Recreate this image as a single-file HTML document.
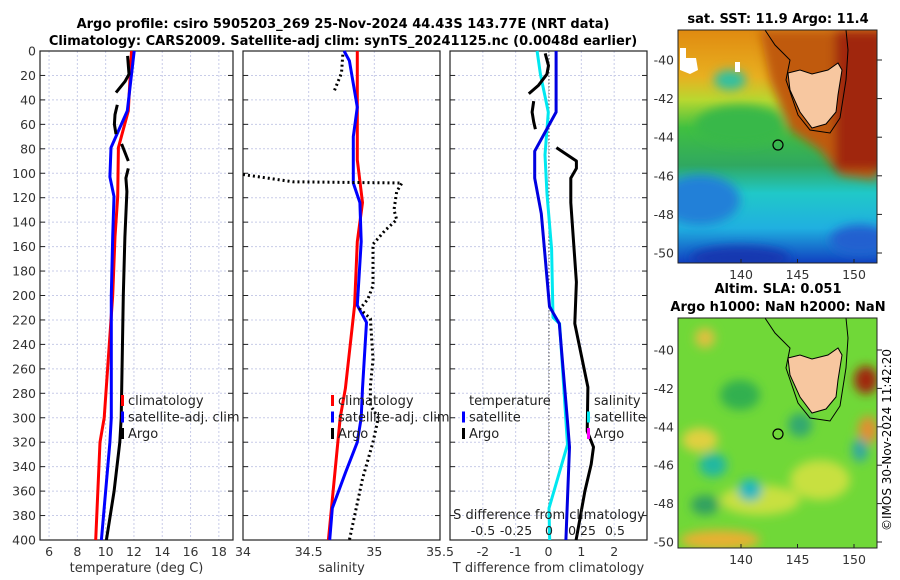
<!DOCTYPE html>
<html><head><meta charset="utf-8">
<style>
body{margin:0;background:#fff;}
svg{display:block;font-family:"DejaVu Sans","Liberation Sans",sans-serif;}
</style></head>
<body>
<svg id="chart" width="900" height="580" viewBox="0 0 900 580" xmlns="http://www.w3.org/2000/svg">
<defs>
<linearGradient id="sstg" x1="0" y1="0" x2="0" y2="1">
<stop offset="0" stop-color="#e08a10"/><stop offset="0.2" stop-color="#e8b020"/><stop offset="0.3" stop-color="#b8d830"/>
<stop offset="0.42" stop-color="#40c040"/><stop offset="0.58" stop-color="#30a860"/><stop offset="0.7" stop-color="#20c8c8"/>
<stop offset="0.85" stop-color="#20b0e0"/><stop offset="1" stop-color="#1040c0"/></linearGradient>
<filter id="blur4"><feGaussianBlur stdDeviation="5"/></filter>
<clipPath id="clipTop"><rect x="678" y="30" width="199" height="233"/></clipPath>
<clipPath id="clipBot"><rect x="678" y="318" width="199" height="230"/></clipPath>
</defs>
<text x="343" y="28" text-anchor="middle" font-size="13" font-weight="bold">Argo profile: csiro 5905203_269 25-Nov-2024 44.43S 143.77E (NRT data)</text>
<text x="343" y="45" text-anchor="middle" font-size="13" font-weight="bold">Climatology: CARS2009. Satellite-adj clim: synTS_20241125.nc (0.0048d earlier)</text>
<g id="plots"></g>

<g>
<text x="778" y="23" text-anchor="middle" font-size="13" font-weight="bold">sat. SST: 11.9 Argo: 11.4</text>
<g clip-path="url(#clipTop)">
<rect x="678" y="30" width="199" height="233" fill="url(#sstg)"/>
<g filter="url(#blur4)">
<path d="M760 30 L877 30 L877 180 L840 175 L820 150 L790 130 L770 80 Z" fill="#c05a10"/>
<rect x="835" y="30" width="50" height="140" fill="#a02808"/>
<ellipse cx="700" cy="200" rx="40" ry="25" fill="#2080d8"/>
<ellipse cx="740" cy="258" rx="50" ry="12" fill="#1838b0"/>
<ellipse cx="860" cy="240" rx="30" ry="15" fill="#2060d0"/>
<ellipse cx="740" cy="125" rx="45" ry="20" fill="#38b848"/>
<ellipse cx="730" cy="80" rx="16" ry="10" fill="#30c0a0"/>
</g>
<path d="M680 48 L686 48 L686 58 L696 58 L698 70 L690 74 L680 70 Z" fill="#fff"/>
<path d="M735 62 L740 62 L740 72 L735 72 Z" fill="#fff"/>
</g>
<path d="M788 73 L800 70 L812 74 L828 70 L838 63 L842 70 L838 95 L836 112 L826 124 L812 128 L800 112 L790 90 Z" fill="#f7c7a0" stroke="#000" stroke-width="1"/>
<path d="M765 30 L775 45 L790 60 L786 80 L798 115 L810 130 L830 133 L840 118 L846 80 L848 50 L846 30" fill="none" stroke="#000" stroke-width="1"/>
<circle cx="778" cy="145" r="5" fill="none" stroke="#000" stroke-width="1.2"/>
<rect x="678" y="30" width="199" height="233" fill="none" stroke="#222" stroke-width="1"/>
</g>

<g>
<text x="778" y="293" text-anchor="middle" font-size="13" font-weight="bold">Altim. SLA: 0.051</text>
<text x="778" y="311" text-anchor="middle" font-size="13" font-weight="bold">Argo h1000: NaN h2000: NaN</text>
<g clip-path="url(#clipBot)">
<rect x="678" y="318" width="199" height="230" fill="#70d838"/>
<g filter="url(#blur4)">
<ellipse cx="700" cy="440" rx="18" ry="12" fill="#e0d040"/>
<ellipse cx="760" cy="500" rx="40" ry="15" fill="#c8e040"/>
<ellipse cx="720" cy="540" rx="40" ry="10" fill="#e8b030"/>
<ellipse cx="820" cy="480" rx="30" ry="20" fill="#c8e040"/>
<ellipse cx="866" cy="380" rx="12" ry="14" fill="#a02808"/>
<ellipse cx="868" cy="430" rx="10" ry="14" fill="#e09030"/>
<ellipse cx="705" cy="338" rx="10" ry="10" fill="#e0c040"/>
<ellipse cx="713" cy="465" rx="14" ry="12" fill="#20b8a0"/>
<ellipse cx="750" cy="490" rx="12" ry="11" fill="#20b8c0"/>
<ellipse cx="705" cy="505" rx="14" ry="10" fill="#30a060"/>
<ellipse cx="740" cy="395" rx="20" ry="15" fill="#30b050"/>
<ellipse cx="800" cy="425" rx="12" ry="12" fill="#30a870"/>
<ellipse cx="860" cy="450" rx="8" ry="12" fill="#30a8a0"/>
</g>
</g>
<path d="M788 358 L800 355 L812 359 L828 355 L838 348 L842 355 L838 380 L836 397 L826 409 L812 413 L800 397 L790 375 Z" fill="#f7c7a0" stroke="#000" stroke-width="1"/>
<path d="M765 318 L775 333 L790 348 L786 368 L798 403 L810 418 L830 421 L840 406 L846 368 L848 338 L846 318" fill="none" stroke="#000" stroke-width="1"/>
<circle cx="778" cy="434" r="5" fill="none" stroke="#000" stroke-width="1.2"/>
<rect x="678" y="318" width="199" height="230" fill="none" stroke="#222" stroke-width="1"/>
<text transform="translate(891,440) rotate(-90)" text-anchor="middle" font-size="12">©IMOS 30-Nov-2024 11:42:20</text>
</g>
<g id="maplabels"></g>
</svg>
<script>
const tempClimDepth = [0, 49, 79, 119, 152, 200, 300, 320, 400];
const tempClimValue = [11.83, 11.6, 10.9, 10.85, 10.66, 10.5, 9.9, 9.6, 9.3];
const tempSatDepth = [0, 49, 79, 103, 119, 152, 200, 215, 300, 320, 400];
const tempSatValue = [12.02, 11.53, 10.38, 10.3, 10.59, 10.5, 10.4, 10.4, 10.4, 10.3, 9.7];
const tempArgoDepth = [4, 19, 25, 34, null, 44, 52, 60, 68, null, 76, 90, null, 96, 104, 115, 152, 200, 300, 320, 360, 400];
const tempArgoValue = [11.55, 11.65, 11.36, 10.73, null, 10.82, 10.66, 10.62, 10.73, null, 11.13, 11.6, null, 11.6, 11.43, 11.5, 11.36, 11.25, 11.1, 11.0, 10.6, 10.05];

const salClimDepth = [0, 89, 124, 156, 208, 276, 300, 400];
const salClimValue = [34.87, 34.87, 34.91, 34.87, 34.85, 34.78, 34.74, 34.65];
const salSatDepth = [0, 8, 46, 70, 100, 108, 124, 156, 208, 222, 276, 300, 320, 345, 374, 400];
const salSatValue = [34.77, 34.81, 34.87, 34.84, 34.84, 34.84, 34.89, 34.9, 34.87, 34.94, 34.91, 34.9, 34.87, 34.78, 34.68, 34.66];
const salArgoDepth = [3, 18, 34, null, 101, 107, 108, 115, 130, 138, 147, 158, 178, 192, 203, 211, 219, 252, 274, 290, 300, 320, 350, 400];
const salArgoValue = [34.76, 34.75, 34.69, null, 34.0, 34.38, 35.21, 35.17, 35.15, 35.17, 35.08, 34.99, 34.99, 34.99, 34.95, 34.89, 34.97, 34.99, 34.97, 34.97, 35.03, 34.99, 34.91, 34.81];

const tdiffSatDepth = [0, 50, 82, 104, 133, 209, 223, 303, 324, 400];
const tdiffSatValue = [0.23, 0.23, -0.42, -0.42, -0.22, 0.03, 0.33, 0.58, 0.64, 0.53];
const tdiffArgoDepth = [2, 12, 19, 28, 35, null, 41, 50, 58, 64, null, 79, 90, 96, 104, 124, 189, 223, 275, 311, 324, 338, 360, 400];
const tdiffArgoValue = [-0.1, 0.0, -0.05, -0.3, -0.6, null, -0.45, -0.5, -0.45, -0.4, null, 0.24, 0.85, 0.85, 0.68, 0.68, 0.85, 0.8, 1.2, 1.18, 1.37, 1.3, 1.11, 0.84];
const sdiffSatDepth = [0, 19, 50, 85, 117, 162, 218, 223, 322, 374, 400];
const sdiffSatValue = [-0.09, -0.065, -0.005, -0.03, -0.015, 0.02, 0.03, 0.08, 0.14, 0.0, 0.005];

const depthTicks = [0,20,40,60,80,100,120,140,160,180,200,220,240,260,280,300,320,340,360,380,400];
const tempTicks = [6,8,10,12,14,16,18];
const salTicks = [34,34.5,35,35.5];
const tdiffTicks = [-2,-1,0,1,2];
const sdiffTicks = [-0.5,-0.25,0,0.25,0.5];
const lonTicks = [140,145,150];
const latTicks = [-40,-42,-44,-46,-48,-50];

const NS = 'http://www.w3.org/2000/svg';
const Y0 = 51, Y1 = 540;
const yD = d => Y0 + (d / 400) * (Y1 - Y0);
const P1 = {x0:40, x1:233, v0:5.36, v1:19};
const P2 = {x0:243, x1:440, v0:34, v1:35.5};
const P3 = {x0:450, x1:647, v0:-3, v1:3};
const xOf = (p, v) => p.x0 + (v - p.v0) / (p.v1 - p.v0) * (p.x1 - p.x0);
const xS = s => 549 + s * 132;
const root = document.getElementById('plots');
function mk(tag, attrs, parent) {
  const e = document.createElementNS(NS, tag);
  for (const k in attrs) e.setAttribute(k, attrs[k]);
  (parent || root).appendChild(e);
  return e;
}
function pathD(depths, vals, fx) {
  let d = '', pen = false;
  for (let i = 0; i < depths.length; i++) {
    if (depths[i] === null || vals[i] === null) { pen = false; continue; }
    d += (pen ? 'L' : 'M') + fx(vals[i]).toFixed(1) + ' ' + yD(depths[i]).toFixed(1);
    pen = true;
  }
  return d;
}
function panel(p, ticks, name, xlabel) {
  const g = mk('g', {});
  
  
  ticks.forEach(v => {
    const x = xOf(p, v);
    const gl = mk('line', {x1:x, x2:x, y1:Y0, y2:Y1, stroke:'#c8cce8', 'stroke-width':1, 'stroke-dasharray':'2 2'}, g);
    
    
    const t = mk('text', {x:x, y:556, 'text-anchor':'middle', 'font-size':12.5, fill:'#333'}, g);
    t.textContent = v;
    
    
  });
  depthTicks.forEach(d => {
    const y = yD(d);
    const gl = mk('line', {x1:p.x0, x2:p.x1, y1:y, y2:y, stroke:'#c8cce8', 'stroke-width':1, 'stroke-dasharray':'2 2'}, g);
    
    
    mk('line', {x1:p.x0, x2:p.x0 + 5, y1:y, y2:y, stroke:'#222'}, g);
    mk('line', {x1:p.x1 - 5, x2:p.x1, y1:y, y2:y, stroke:'#222'}, g);
  });
  const fr = mk('rect', {x:p.x0, y:Y0, width:p.x1 - p.x0, height:Y1 - Y0, fill:'none', stroke:'#222', 'stroke-width':1.2}, g);
  
  
  const xl = mk('text', {x:(p.x0 + p.x1) / 2, y:572, 'text-anchor':'middle', 'font-size':13, fill:'#333'}, g);
  xl.textContent = xlabel;
  
  
  return g;
}
function series(g, d, v, fx, color, name, dotted) {
  const a = {d:pathD(d, v, fx), fill:'none', stroke:color, 'stroke-width':3, 'stroke-linejoin':'round'};
  if (dotted) { a['stroke-dasharray'] = '2 3'; }
  const e = mk('path', a, g);
  
  
}
function legend(g, x, y, items) {
  items.forEach((it, i) => {
    const yy = y + i * 16.5;
    if (it.c) mk('rect', {x:x, y:yy - 10, width:3, height:11, fill:it.c}, g);
    const t = mk('text', {x:x + 7, y:yy, 'font-size':13, fill:'#222'}, g);
    t.textContent = it.t;
    
    
  });
}
depthTicks.forEach(d => {
  const t = mk('text', {x:36, y:yD(d) + 4.5, 'text-anchor':'end', 'font-size':12.5, fill:'#333'});
  t.textContent = d;
  
  
});

const g1 = panel(P1, tempTicks, 'temperature-panel', 'temperature (deg C)');
series(g1, tempClimDepth, tempClimValue, v => xOf(P1, v), '#ff0000', 'temp-climatology-line');
series(g1, tempSatDepth, tempSatValue, v => xOf(P1, v), '#0000ff', 'temp-satellite-line');
series(g1, tempArgoDepth, tempArgoValue, v => xOf(P1, v), '#000', 'temp-argo-line');
legend(g1, 121, 405, [{c:'#ff0000', t:'climatology'}, {c:'#0000ff', t:'satellite-adj. clim'}, {c:'#000', t:'Argo'}]);

const g2 = panel(P2, salTicks, 'salinity-panel', 'salinity');
series(g2, salClimDepth, salClimValue, v => xOf(P2, v), '#ff0000', 'sal-climatology-line');
series(g2, salSatDepth, salSatValue, v => xOf(P2, v), '#0000ff', 'sal-satellite-line');
series(g2, salArgoDepth, salArgoValue, v => xOf(P2, v), '#000', 'sal-argo-line', true);
legend(g2, 331, 405, [{c:'#ff0000', t:'climatology'}, {c:'#0000ff', t:'satellite-adj. clim'}, {c:'#000', t:'Argo'}]);

const g3 = panel(P3, tdiffTicks, 'difference-panel', 'T difference from climatology');
const zl = mk('line', {x1:549, x2:549, y1:Y0, y2:Y1, stroke:'#555', 'stroke-width':1, 'stroke-dasharray':'1.5 2'}, g3);


series(g3, sdiffSatDepth, sdiffSatValue, xS, '#00e8f0', 'sdiff-satellite-line');
series(g3, tdiffSatDepth, tdiffSatValue, v => xOf(P3, v), '#0000e0', 'tdiff-satellite-line');
series(g3, tdiffArgoDepth, tdiffArgoValue, v => xOf(P3, v), '#000', 'tdiff-argo-line');
legend(g3, 462, 405, [{t:'temperature'}, {c:'#0000ff', t:'satellite'}, {c:'#000', t:'Argo'}]);
legend(g3, 587, 405, [{t:'salinity'}, {c:'#00e8f0', t:'satellite'}, {c:'#ff00ff', t:'Argo'}]);
const st = mk('text', {x:549, y:519, 'text-anchor':'middle', 'font-size':13, fill:'#222'}, g3);
st.textContent = 'S difference from climatology';


sdiffTicks.forEach(s => {
  const t = mk('text', {x:xS(s), y:535, 'text-anchor':'middle', 'font-size':12.5, fill:'#222'}, g3);
  t.textContent = s;
  
  
});
const ml = document.getElementById('maplabels');
const lonX = lon => 741 + (lon - 140) * 11.3;
function mapAxes(bottom, latY) {
  lonTicks.forEach(l => {
    const t = mk('text', {x:lonX(l), y:bottom + 16, 'text-anchor':'middle', 'font-size':12.5, fill:'#333'}, ml);
    t.textContent = l;
    
    
    mk('line', {x1:lonX(l), x2:lonX(l), y1:bottom, y2:bottom - 4, stroke:'#222'}, ml);
  });
  latTicks.forEach(la => {
    const y = latY(la);
    const t = mk('text', {x:674, y:y + 4.5, 'text-anchor':'end', 'font-size':12.5, fill:'#333'}, ml);
    t.textContent = la;
    
    
    mk('line', {x1:877, x2:882, y1:y, y2:y, stroke:'#222'}, ml);
  });
}
mapAxes(263, la => 60 + (-40 - la) * 19.3);
mapAxes(548, la => 350 + (-40 - la) * 19.2);
</script>
</body></html>
